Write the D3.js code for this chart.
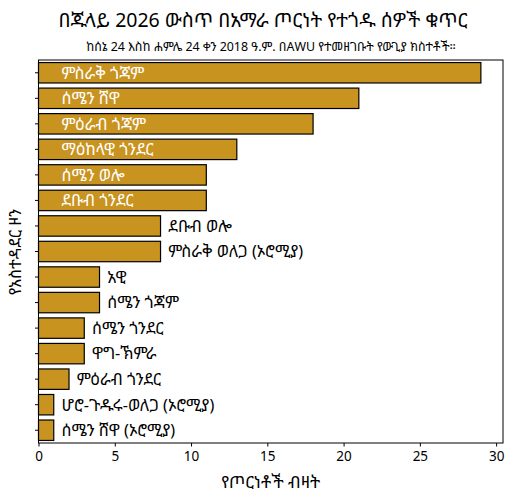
<!DOCTYPE html>
<html>
<head>
<meta charset="utf-8">
<script src="https://cdn.jsdelivr.net/npm/d3@7"></script>
<style>
  html, body { margin: 0; padding: 0; background: #fff; }
  svg text { font-family: "Noto Sans Ethiopic", "Noto Sans", sans-serif; }
</style>
</head>
<body>
<svg id="chart" width="514" height="497"></svg>
<script>
const categories = [
  "ምስራቅ ጎጃም",
  "ሰሜን ሸዋ",
  "ምዕራብ ጎጃም",
  "ማዕከላዊ ጎንደር",
  "ሰሜን ወሎ",
  "ደቡብ ጎንደር",
  "ደቡብ ወሎ",
  "ምስራቅ ወለጋ (ኦሮሚያ)",
  "አዊ",
  "ሰሜን ጎጃም",
  "ሰሜን ጎንደር",
  "ዋግ-ኽምራ",
  "ምዕራብ ጎንደር",
  "ሆሮ-ጉዱሩ-ወለጋ (ኦሮሚያ)",
  "ሰሜን ሸዋ (ኦሮሚያ)"
];
const values = [29, 21, 18, 13, 11, 11, 8, 8, 4, 4, 3, 3, 2, 1, 1];
const xTicks = [0, 5, 10, 15, 20, 25, 30];
const title = "በጁላይ 2026 ውስጥ በአማራ ጦርነት የተጎዱ ሰዎች ቁጥር";
const subtitle = "ከሰኔ 24 እስከ ሐምሌ 24 ቀን 2018 ዓ.ም. በAWU የተመዘገቡት የውጊያ ክስተቶች።";
const xLabel = "የጦርነቶች ብዛት";
const yLabel = "የአስተዳደር ዞን";

const svg = d3.select("#chart");
const margin = {left: 38.5, right: 11, top: 60, bottom: 54};
const W = 514, H = 497;
const x0 = margin.left, x1 = W - margin.right, y0 = margin.top, y1 = H - margin.bottom;
const xMax = d3.max(values) * 1.05;

const x = d3.scaleLinear().domain([0, xMax]).range([x0, x1]);
const y = d3.scaleBand().domain(categories).range([y0, y1]).paddingInner(0.2).paddingOuter(0.1);

const color = "#C9931F";
const insideThreshold = 10;

svg.append("g").selectAll("rect").data(categories).join("rect")
  .attr("x", x(0))
  .attr("y", d => y(d))
  .attr("width", (d, i) => x(values[i]) - x(0))
  .attr("height", y.bandwidth())
  .attr("fill", color)
  .attr("stroke", "#000")
  .attr("stroke-width", 1.2);

svg.append("g").selectAll("text").data(categories).join("text")
  .attr("x", (d, i) => values[i] > insideThreshold ? x(1.5) : x(values[i] + 0.5))
  .attr("y", d => y(d) + y.bandwidth() / 2)
  .attr("dy", "0.36em")
  .attr("font-size", 16.2)
  .attr("fill", (d, i) => values[i] > insideThreshold ? "#fff" : "#000")
  .text(d => d);

// frame
svg.append("rect")
  .attr("x", x0).attr("y", y0).attr("width", x1 - x0).attr("height", y1 - y0)
  .attr("fill", "none").attr("stroke", "#000").attr("stroke-width", 1);

// x axis
const xAxis = d3.axisBottom(x).tickValues(xTicks).tickSize(3.5).tickPadding(5);
const gx = svg.append("g").attr("transform", `translate(0,${y1})`).call(xAxis);
gx.select(".domain").remove();
gx.selectAll("text").attr("font-size", 13.5).attr("fill", "#000")
  .style("font-family", '"Noto Sans Ethiopic", "Noto Sans", sans-serif');

// y ticks
const yAxis = d3.axisLeft(y).tickSize(3.5).tickFormat("");
const gy = svg.append("g").attr("transform", `translate(${x0},0)`).call(yAxis);
gy.select(".domain").remove();

svg.append("text").attr("x", (x0 + x1) / 2).attr("y", 482).attr("dy", "0.36em")
  .attr("text-anchor", "middle").attr("font-size", 17).text(xLabel);

svg.append("text").attr("transform", `translate(15,252) rotate(-90)`).attr("dy", "0.36em")
  .attr("text-anchor", "middle").attr("font-size", 16.3).text(yLabel);

svg.append("text").attr("x", 263).attr("y", 20).attr("dy", "0.36em")
  .attr("text-anchor", "middle").attr("font-size", 19.5).text(title);

svg.append("text").attr("x", 271).attr("y", 47).attr("dy", "0.36em")
  .attr("text-anchor", "middle").attr("font-size", 12.4).text(subtitle);
</script>
</body>
</html>
